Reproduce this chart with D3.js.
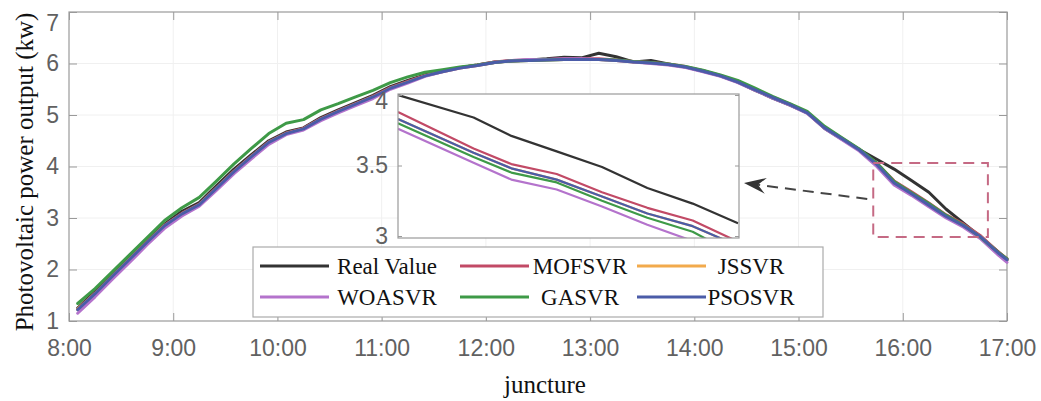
<!DOCTYPE html>
<html>
<head>
<meta charset="utf-8">
<script src="https://cdn.jsdelivr.net/npm/d3@7"></script>
<style>
  html, body { margin: 0; padding: 0; background: #fff; }
  svg { display: block; }
</style>
</head>
<body>
<svg id="chart" width="1041" height="401"></svg>
<script>
// ---- data -------------------------------------------------------------
const times = ["8:05","8:15","8:25","8:35","8:45","8:55","9:05","9:15","9:25","9:35","9:45","9:55",
  "10:05","10:15","10:25","10:35","10:45","10:55","11:05","11:15","11:25","11:35","11:45","11:55",
  "12:05","12:15","12:25","12:35","12:45","12:55","13:05","13:15","13:25","13:35","13:45","13:55",
  "14:05","14:15","14:25","14:35","14:45","14:55","15:05","15:15","15:25","15:35","15:45","15:55",
  "16:05","16:15","16:25","16:35","16:45","16:55","17:00"];

const realValue = [1.25,1.57,1.90,2.23,2.56,2.88, 3.13,3.30,3.63,3.95,4.23,4.50,
  4.67,4.75,4.95,5.10,5.24,5.38, 5.55,5.67,5.78,5.86,5.92,5.97,
  6.03,6.05,6.07,6.09,6.12,6.11, 6.20,6.13,6.03,6.06,5.99,5.93,
  5.86,5.76,5.64,5.48,5.33,5.19, 5.04,4.74,4.53,4.33,4.14,3.95,
  3.73,3.50,3.17,2.90,2.63,2.34, 2.19];

const mofsvr = [1.23,1.54,1.88,2.21,2.54,2.86, 3.09,3.27,3.59,3.91,4.20,4.48,
  4.65,4.74,4.93,5.08,5.22,5.36, 5.53,5.65,5.77,5.85,5.92,5.97,
  6.03,6.06,6.07,6.08,6.09,6.09, 6.09,6.07,6.04,6.02,5.99,5.94,
  5.86,5.77,5.65,5.50,5.35,5.21, 5.05,4.76,4.55,4.33,4.06,3.72,
  3.51,3.29,3.06,2.88,2.65,2.34, 2.21];

const jssvr = [1.23,1.53,1.87,2.20,2.53,2.85, 3.08,3.26,3.58,3.90,4.19,4.47,
  4.64,4.73,4.92,5.07,5.21,5.35, 5.52,5.64,5.76,5.84,5.91,5.96,
  6.02,6.05,6.06,6.07,6.08,6.08, 6.08,6.06,6.03,6.01,5.98,5.93,
  5.85,5.76,5.64,5.49,5.34,5.20, 5.04,4.75,4.54,4.32,4.04,3.68,
  3.47,3.25,3.03,2.85,2.63,2.32, 2.19];

const woasvr = [1.15,1.47,1.81,2.14,2.48,2.80, 3.04,3.23,3.54,3.86,4.15,4.43,
  4.62,4.71,4.89,5.04,5.18,5.32, 5.50,5.62,5.75,5.84,5.91,5.96,
  6.02,6.06,6.08,6.08,6.09,6.09, 6.08,6.06,6.03,6.00,5.97,5.92,
  5.84,5.75,5.63,5.48,5.33,5.19, 5.03,4.74,4.52,4.30,4.00,3.64,
  3.44,3.22,3.00,2.82,2.59,2.28, 2.14];

const gasvr = [1.34,1.63,1.96,2.29,2.62,2.95, 3.20,3.40,3.72,4.05,4.35,4.64,
  4.84,4.91,5.10,5.22,5.35,5.48, 5.63,5.74,5.83,5.88,5.93,5.97,
  6.02,6.05,6.06,6.07,6.08,6.08, 6.08,6.07,6.04,6.02,5.99,5.94,
  5.87,5.78,5.67,5.52,5.36,5.22, 5.07,4.78,4.56,4.34,4.07,3.71,
  3.49,3.28,3.05,2.86,2.62,2.33, 2.21];

const psosvr = [1.22,1.53,1.87,2.20,2.53,2.85, 3.08,3.26,3.58,3.90,4.19,4.47,
  4.64,4.73,4.92,5.07,5.21,5.35, 5.52,5.64,5.76,5.84,5.91,5.96,
  6.02,6.05,6.06,6.07,6.08,6.08, 6.08,6.06,6.03,6.01,5.98,5.93,
  5.85,5.76,5.64,5.49,5.34,5.20, 5.04,4.75,4.54,4.32,4.04,3.68,
  3.47,3.25,3.03,2.85,2.63,2.32, 2.19];

const xTickLabels = ["8:00","9:00","10:00","11:00","12:00","13:00","14:00","15:00","16:00","17:00"];
const yTickValues = [1, 2, 3, 4, 5, 6, 7];

// magnified late-afternoon window
const insetTimes = ["15:45","15:55","16:00","16:06","16:12","16:18","16:24","16:30"];
const insetReal   = [4.00,3.84,3.71,3.60,3.49,3.34,3.23,3.09];
const insetMOFSVR = [3.88,3.62,3.51,3.44,3.31,3.20,3.11,2.96];
const insetJSSVR  = [3.83,3.59,3.48,3.40,3.28,3.16,3.07,2.93];
const insetWOASVR = [3.76,3.52,3.40,3.33,3.21,3.08,2.965,2.85];
const insetGASVR  = [3.80,3.56,3.45,3.38,3.25,3.13,3.03,2.86];
const insetPSOSVR = [3.83,3.59,3.48,3.40,3.28,3.16,3.07,2.93];
const insetTickValues = [3, 3.5, 4];

// highlighted region on the main axes
const zoomTimes = ["15:43", "16:49"];
const zoomValues = [2.63, 4.07];

const seriesNames = ["Real Value", "MOFSVR", "JSSVR", "WOASVR", "GASVR", "PSOSVR"];
const seriesColors = ["#333333", "#c24a66", "#f2aa4c", "#b473cc", "#3e9a47", "#4b5ca8"];

// ---- helpers ------------------------------------------------------------
const toHours = s => { const [h, m] = s.split(":").map(Number); return h + m / 60; };
const sansFont = "'Liberation Sans', Arial, sans-serif";
const serifFont = "'Liberation Serif', 'Times New Roman', serif";
const tickColor = "#616161";
const frameColor = "#9a9a9a";

const svg = d3.select("#chart");

// ---- main axes ------------------------------------------------------------
const plot = { left: 69, right: 1007, top: 12, bottom: 321 };
const x = d3.scaleLinear().domain([8, 17]).range([plot.left, plot.right]);
const y = d3.scaleLinear().domain([1, 7]).range([plot.bottom, plot.top]);
const xTickValues = xTickLabels.map(toHours);

// faint grid
const grid = svg.append("g").attr("stroke", "#f0f0f0").attr("stroke-width", 1);
grid.selectAll("line.gx").data(xTickValues.slice(1, -1)).join("line")
  .attr("x1", d => x(d)).attr("x2", d => x(d))
  .attr("y1", plot.top).attr("y2", plot.bottom);
grid.selectAll("line.gy").data(yTickValues.slice(1, -1)).join("line")
  .attr("x1", plot.left).attr("x2", plot.right)
  .attr("y1", d => y(d)).attr("y2", d => y(d));

function styleAxis(g) {
  g.select(".domain").remove();
  g.selectAll(".tick line").attr("stroke", frameColor).attr("stroke-width", 1);
  g.selectAll(".tick text").attr("fill", tickColor)
    .attr("font-family", sansFont).attr("font-size", 23);
}

const fmtX = d3.scaleOrdinal().domain(xTickValues).range(xTickLabels);

svg.append("g").attr("transform", `translate(0,${plot.bottom})`)
  .call(d3.axisBottom(x).tickValues(xTickValues).tickFormat(d => fmtX(d))
    .tickSizeInner(-8).tickSizeOuter(0).tickPadding(19))
  .call(styleAxis);

svg.append("g").attr("transform", `translate(0,${plot.top})`)
  .call(d3.axisTop(x).tickValues(xTickValues).tickFormat("")
    .tickSizeInner(-8).tickSizeOuter(0))
  .call(styleAxis);

const yAxisG = svg.append("g").attr("transform", `translate(${plot.left},0)`)
  .call(d3.axisLeft(y).tickValues(yTickValues).tickFormat(d3.format("d"))
    .tickSizeInner(-8).tickSizeOuter(0).tickPadding(10))
  .call(styleAxis);
// keep the top label inside the figure
yAxisG.selectAll(".tick text").attr("y", d => Math.max(0, plot.top + 11 - y(d)));

svg.append("g").attr("transform", `translate(${plot.right},0)`)
  .call(d3.axisRight(y).tickValues(yTickValues).tickFormat("")
    .tickSizeInner(-8).tickSizeOuter(0))
  .call(styleAxis);

svg.append("rect")
  .attr("x", plot.left).attr("y", plot.top)
  .attr("width", plot.right - plot.left).attr("height", plot.bottom - plot.top)
  .attr("fill", "none").attr("stroke", frameColor).attr("stroke-width", 1.2);

// series
const hours = times.map(toHours);
const mainSeries = [realValue, mofsvr, jssvr, woasvr, gasvr, psosvr];
const line = d3.line().x((d, i) => x(hours[i])).y(d => y(d));

svg.append("g").attr("fill", "none").attr("stroke-linejoin", "round").attr("stroke-linecap", "round")
  .selectAll("path").data(mainSeries).join("path")
  .attr("d", d => line(d))
  .attr("stroke", (d, i) => seriesColors[i])
  .attr("stroke-width", 3);

// axis titles
svg.append("text")
  .attr("transform", `translate(33,172) rotate(-90)`)
  .attr("text-anchor", "middle")
  .attr("font-family", serifFont).attr("font-size", 25).attr("fill", "#111")
  .text("Photovoltaic power output (kw)");

svg.append("text")
  .attr("x", 545).attr("y", 393)
  .attr("text-anchor", "middle")
  .attr("font-family", serifFont).attr("font-size", 25).attr("fill", "#111")
  .text("juncture");

// ---- highlighted window and pointer ----------------------------------------
const zx0 = x(toHours(zoomTimes[0])), zx1 = x(toHours(zoomTimes[1]));
const zy0 = y(zoomValues[1]), zy1 = y(zoomValues[0]);
svg.append("rect")
  .attr("x", zx0).attr("y", zy0).attr("width", zx1 - zx0).attr("height", zy1 - zy0)
  .attr("fill", "none").attr("stroke", "#c56a84").attr("stroke-width", 2)
  .attr("stroke-dasharray", "11,7");

// ---- inset ---------------------------------------------------------------
const inset = { left: 398, right: 739, top: 94, bottom: 238 };
const xi = d3.scaleLinear()
  .domain([toHours(insetTimes[0]), toHours(insetTimes[insetTimes.length - 1])])
  .range([inset.left, inset.right - 1]);
const yi = d3.scaleLinear().domain([2.986, 4.007]).range([inset.bottom, inset.top]);

svg.append("rect")
  .attr("x", inset.left).attr("y", inset.top)
  .attr("width", inset.right - inset.left).attr("height", inset.bottom - inset.top)
  .attr("fill", "#fff");

svg.append("defs").append("clipPath").attr("id", "insetClip")
  .append("rect")
  .attr("x", inset.left).attr("y", inset.top)
  .attr("width", inset.right - inset.left).attr("height", inset.bottom - inset.top);

const insetHours = insetTimes.map(toHours);
const insetSeries = [insetReal, insetMOFSVR, insetJSSVR, insetWOASVR, insetGASVR, insetPSOSVR];
const insetLine = d3.line().x((d, i) => xi(insetHours[i])).y(d => yi(d));

svg.append("g").attr("clip-path", "url(#insetClip)")
  .attr("fill", "none").attr("stroke-linejoin", "round")
  .selectAll("path").data(insetSeries).join("path")
  .attr("d", d => insetLine(d))
  .attr("stroke", (d, i) => seriesColors[i])
  .attr("stroke-width", 2.2);

const insetAxis = svg.append("g").attr("transform", `translate(${inset.left},0)`)
  .call(d3.axisLeft(yi).tickValues(insetTickValues).tickFormat(d => String(d))
    .tickSizeInner(-4).tickSizeOuter(0).tickPadding(10))
  .call(styleAxis);
insetAxis.selectAll(".tick text").attr("y", d => Math.max(0, inset.top + 7 - yi(d)));

svg.append("g").attr("transform", `translate(${inset.right},0)`)
  .call(d3.axisRight(yi).tickValues(insetTickValues).tickFormat("")
    .tickSizeInner(-4).tickSizeOuter(0))
  .call(styleAxis);

svg.append("rect")
  .attr("x", inset.left).attr("y", inset.top)
  .attr("width", inset.right - inset.left).attr("height", inset.bottom - inset.top)
  .attr("fill", "none").attr("stroke", frameColor).attr("stroke-width", 1.2);

// dashed pointer from the window to the inset
const arrowStart = [zx0 - 6, (zy0 + zy1) / 2 - 1];
const arrowTip = [inset.right + 5, (inset.top + inset.bottom) / 2 + 17];
const angle = Math.atan2(arrowStart[1] - arrowTip[1], arrowStart[0] - arrowTip[0]) * 180 / Math.PI;
svg.append("line")
  .attr("x1", arrowStart[0]).attr("y1", arrowStart[1])
  .attr("x2", arrowTip[0] + 10 * Math.cos(angle * Math.PI / 180))
  .attr("y2", arrowTip[1] + 10 * Math.sin(angle * Math.PI / 180))
  .attr("stroke", "#444").attr("stroke-width", 2).attr("stroke-dasharray", "11,7");
svg.append("path")
  .attr("transform", `translate(${arrowTip[0]},${arrowTip[1]}) rotate(${angle})`)
  .attr("d", "M0,0 L22,-8 L14,0 L22,8 Z")
  .attr("fill", "#333");

// ---- legend ----------------------------------------------------------------
const legendBox = { x: 253, y: 247, w: 570, h: 70 };
const legendCols = [{ line: 260, text: 387 }, { line: 460, text: 580 }, { line: 637, text: 751 }];
const legendRows = [266, 297];
const legend = svg.append("g");
legend.append("rect")
  .attr("x", legendBox.x).attr("y", legendBox.y)
  .attr("width", legendBox.w).attr("height", legendBox.h)
  .attr("fill", "#fff").attr("stroke", "#ababab").attr("stroke-width", 1.2);

const items = legend.selectAll("g.item").data(seriesNames).join("g").attr("class", "item");
items.append("line")
  .attr("x1", (d, i) => legendCols[i % 3].line)
  .attr("x2", (d, i) => legendCols[i % 3].line + 69)
  .attr("y1", (d, i) => legendRows[Math.floor(i / 3)])
  .attr("y2", (d, i) => legendRows[Math.floor(i / 3)])
  .attr("stroke", (d, i) => seriesColors[i]).attr("stroke-width", 3);
items.append("text")
  .attr("x", (d, i) => legendCols[i % 3].text)
  .attr("y", (d, i) => legendRows[Math.floor(i / 3)])
  .attr("dy", "0.34em")
  .attr("text-anchor", "middle")
  .attr("font-family", serifFont).attr("font-size", 23).attr("fill", "#111")
  .text(d => d);
</script>
</body>
</html>
